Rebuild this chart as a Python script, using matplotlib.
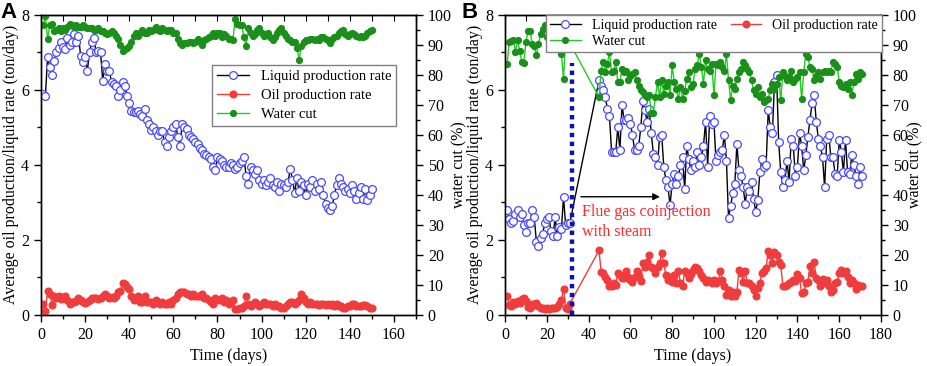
import numpy as np
import matplotlib.pyplot as plt
from matplotlib.ticker import MultipleLocator

plt.rcParams['font.family'] = ['Liberation Serif', 'DejaVu Serif']

# ---------------- panel A : conventional steam stimulation ----------------
days_a = np.arange(1, 151)
liquid_a = [5.88, 5.83, 6.86, 6.6, 6.4, 6.77, 7.0, 7.1, 7.26, 7.15,
            7.08, 7.39, 7.2, 7.26, 7.48, 7.26, 7.43, 6.9, 6.73, 6.86,
            6.5, 7.0, 7.26, 7.37, 7.0, 7.04, 7.0, 6.24, 6.68, 6.5,
            6.5, 6.2, 6.15, 6.09, 5.84, 6.0, 6.2, 6.1, 5.84, 5.66,
            5.43, 5.4, 5.4, 5.43, 5.35, 5.3, 5.5, 5.2, 5.1, 4.94,
            5.0, 4.9, 4.8, 4.9, 4.9, 4.6, 4.5, 4.75, 4.9, 5.0,
            5.1, 4.75, 4.5, 5.1, 5.0, 4.95, 4.8, 4.75, 4.7, 4.6,
            4.55, 4.45, 4.4, 4.3, 4.25, 4.2, 4.15, 3.95, 3.85, 4.2,
            4.15, 4.1, 4.0, 3.95, 3.95, 4.05, 4.0, 3.9, 3.95, 4.05,
            4.1, 4.2, 3.7, 3.5, 3.95, 3.85, 3.75, 3.85, 3.6, 3.5,
            3.6, 3.45, 3.55, 3.65, 3.45, 3.4, 3.55, 3.3, 3.5, 3.45,
            3.4, 3.55, 3.9, 3.6, 3.25, 3.65, 3.3, 3.55, 3.45, 3.2,
            3.5, 3.4, 3.6, 3.3, 3.5, 3.35, 3.55, 3.2, 2.95, 2.85,
            2.8, 2.9, 3.2, 3.45, 3.65, 3.5, 3.4, 3.3, 3.35, 3.25,
            3.45, 3.3, 3.1, 3.25, 3.4, 3.1, 3.35, 3.05, 3.2, 3.35]
oil_a = [0.3, 0.1, 0.65, 0.55, 0.28, 0.5, 0.45, 0.5, 0.42, 0.48,
         0.5, 0.4, 0.3, 0.35, 0.35, 0.38, 0.45, 0.4, 0.35, 0.33,
         0.35, 0.4, 0.45, 0.45, 0.45, 0.42, 0.45, 0.5, 0.55, 0.5,
         0.45, 0.48, 0.45, 0.5, 0.6, 0.65, 0.85, 0.82, 0.75, 0.7,
         0.5, 0.4, 0.45, 0.5, 0.35, 0.35, 0.5, 0.35, 0.35, 0.35,
         0.3, 0.4, 0.35, 0.3, 0.35, 0.3, 0.3, 0.35, 0.3, 0.4,
         0.45, 0.55, 0.6, 0.6, 0.6, 0.55, 0.55, 0.5, 0.55, 0.5,
         0.5, 0.5, 0.55, 0.45, 0.45, 0.4, 0.35, 0.3, 0.45, 0.4,
         0.4, 0.45, 0.35, 0.4, 0.3, 0.35, 0.4, 0.15, 0.15, 0.2,
         0.2, 0.25, 0.5, 0.3, 0.25, 0.3, 0.35, 0.3, 0.25, 0.3,
         0.35, 0.3, 0.3, 0.3, 0.25, 0.3, 0.25, 0.25, 0.2, 0.2,
         0.25, 0.3, 0.35, 0.35, 0.3, 0.35, 0.4, 0.55, 0.45, 0.35,
         0.3, 0.35, 0.3, 0.3, 0.3, 0.28, 0.3, 0.3, 0.28, 0.3,
         0.28, 0.3, 0.25, 0.3, 0.25, 0.25, 0.2, 0.2, 0.25, 0.25,
         0.3, 0.3, 0.25, 0.25, 0.25, 0.28, 0.28, 0.25, 0.2, 0.2]
water_a = [96.5, 99.5, 92, 96.5, 96.8, 94.5, 95, 95.5, 94.5, 95.5,
           95, 96, 97, 96.5, 96, 96.5, 96, 96, 96.5, 96,
           95.5, 95.5, 95.5, 95, 95, 95.5, 94.5, 94.5, 94, 93.5,
           94, 94.5, 94, 93, 92, 90, 88, 88.5, 89, 89.5,
           91, 93, 94, 93, 94, 95, 94, 94, 95, 94.5,
           95, 96, 95, 94.5, 95.5, 95, 94.5, 95, 95, 94,
           94, 92, 90.5, 90, 90.5, 90.5, 91, 91, 90.5, 91,
           92, 91, 90, 91.5, 92, 92.5, 93, 94, 93, 94,
           94, 92.5, 93.5, 93, 92, 92, 91.5, 98.5, 97, 96.5,
           96.5, 92.5, 89.5, 95.5, 94, 93, 93.5, 95, 95.5, 94,
           93, 93.5, 94, 92.5, 91.5, 92.5, 94, 95, 95.5, 94,
           93, 92, 91.5, 91, 91, 89, 85, 89.5, 91, 91.5,
           91.5, 92, 92, 91.5, 92, 91.5, 92.5, 92.5, 92, 91.5,
           90.5, 92, 92.5, 93, 94, 94.5, 95, 93.5, 93, 93.5,
           94, 93.5, 93, 92.5, 93, 92.5, 93, 94, 94.5, 95]

# ---------------- panel B : flue gas co-injection ----------------
days_b = list(range(1, 32)) + list(range(45, 172))
liquid_b = [2.8, 2.55, 2.45, 2.5, 2.7, 2.8, 2.6, 2.7, 2.4, 2.2,
            2.45, 2.45, 2.8, 2.6, 1.95, 1.85, 2.05, 2.15, 2.45, 2.55,
            2.6, 2.25, 2.1, 2.6, 2.1, 2.35, 2.3, 3.15, 2.4, 2.45, 2.45,
            6.25, 6.1, 6.0, 5.8, 5.5, 5.3, 4.35, 4.35, 4.35, 5.0,
            4.4, 5.6, 5.2, 5.2, 5.25, 5.1, 4.8, 4.4, 4.4, 4.5,
            5.0, 5.7, 5.45, 5.15, 5.5, 4.85, 4.3, 4.2, 4.0, 4.75,
            4.8, 3.95, 3.6, 3.4, 2.93, 3.5, 3.75, 3.5, 3.7, 4.0,
            4.2, 3.35, 4.5, 4.15, 3.85, 4.1, 3.95, 4.35, 4.0, 4.2,
            4.5, 5.15, 3.95, 5.3, 5.1, 5.15, 4.1, 4.25, 4.35, 4.4,
            4.8, 4.1, 2.58, 2.9, 3.25, 3.5, 4.55, 3.85, 3.7, 3.4,
            2.97, 3.4, 3.3, 3.55, 3.1, 2.75, 3.05, 3.8, 4.15, 3.95,
            4.0, 5.45, 5.0, 4.85, 6.2, 6.4, 4.6, 3.8, 3.4, 3.6,
            4.1, 3.55, 4.7, 4.5, 3.7, 3.95, 4.85, 4.5, 3.85, 4.25,
            4.75, 5.2, 5.65, 5.85, 5.15, 4.7, 4.5, 4.2, 3.4, 4.7,
            4.8, 4.2, 4.2, 3.75, 3.7, 4.65, 4.35, 3.8, 4.65, 3.8,
            3.75, 4.25, 4.0, 3.7, 3.5, 3.95, 3.7]
oil_b = [0.5, 0.28, 0.25, 0.35, 0.3, 0.38, 0.32, 0.42, 0.45, 0.38,
         0.22, 0.18, 0.3, 0.28, 0.32, 0.25, 0.2, 0.18, 0.15, 0.2,
         0.15, 0.18, 0.2, 0.18, 0.22, 0.3, 0.4, 0.7, 0.2, 0.15, 0.3,
         1.72, 1.15, 1.12, 1.0, 0.94, 0.76, 0.76, 0.85, 0.8, 1.12,
         1.07, 0.98, 0.98, 1.16, 1.02, 0.94, 0.87, 1.02, 1.16, 1.05,
         0.9, 1.38, 1.29, 1.42, 1.6, 1.29, 1.25, 1.12, 1.29, 1.38,
         1.64, 1.38, 1.07, 0.94, 1.02, 0.89, 1.07, 0.85, 1.16, 0.85,
         0.76, 1.16, 1.12, 0.98, 1.1, 1.2, 1.29, 1.25, 1.16, 1.07,
         0.98, 0.89, 0.94, 0.9, 0.85, 0.94, 0.85, 0.9, 1.16, 0.94,
         0.76, 0.53, 0.67, 0.5, 0.62, 0.5, 0.62, 1.2, 1.12, 0.89,
         1.16, 0.85, 0.85, 0.76, 0.67, 0.5, 0.71, 0.85, 1.12, 1.16,
         1.25, 1.7, 1.6, 1.38, 1.67, 1.6, 1.42, 1.33, 0.78, 0.78,
         0.8, 0.85, 0.87, 0.94, 0.9, 1.1, 0.98, 0.58, 0.62, 0.85,
         0.89, 1.31, 1.12, 1.42, 0.98, 0.94, 0.76, 0.96, 0.85, 0.94,
         0.78, 0.62, 0.67, 0.85, 0.89, 1.12, 1.2, 1.12, 1.16, 1.02,
         0.85, 0.94, 0.85, 0.69, 0.8, 0.76, 0.76]
water_b = [83.5, 90.8, 91.2, 91.6, 87.5, 91.6, 88, 84.2, 84, 90.8,
           94.7, 94.7, 90.3, 89.7, 86.4, 90.3, 93.6, 95.3, 96.4, 92.5,
           93.1, 95, 92, 94, 93, 91, 87, 78.6, 92, 95, 90.5,
           72.5,
           81.4, 84.2, 80.9, 83.6, 87.5, 80.9, 81.4, 84.2, 77.6, 77.6,
           81.9, 80.9, 81.4, 78.1, 79.7, 80.2, 80.9, 78.1,
           76.4, 74.8, 74.2, 73.1, 72.6, 73.4, 67.2, 67.2,
           72.6, 77.6, 72.6, 78.1, 73.7, 76.4, 77.6, 73.1, 83.1,
           77.6, 75.3, 72.0, 75.9, 72, 74.7, 78.6, 80.9,
           75.9, 77, 81.9, 83.1, 87, 82.5, 77, 84.8, 81.9, 81.4,
           83.6, 73.1, 83.6, 83.1, 84.2, 82.5, 81.4, 87, 78.1, 71.5,
           76.4, 75.3, 78.6, 80.9, 81.9, 84.2, 83.1, 81.9, 80.9, 78.1,
           74.8, 73.7, 75.9, 72.6, 73.7, 71, 71.5, 72, 74.8, 77,
           75.3, 77, 79.2, 71.5, 80.9, 79.7, 78.1, 79.2,
           81.4, 77.6, 78.6, 79.2, 80.9, 72, 80.9, 87, 85.9,
           82.5, 81.9, 78.1, 79.7, 80.9, 78.6, 80.9, 81.4, 80.9,
           81.4, 80.9, 84.2, 83.6, 82.5, 77.6, 76.4, 75.9, 77,
           75.3, 77.6, 73.1, 77.6, 80.2, 78.6, 80.9, 80.2]

inject_day = 32
inject_top = 6.7
arrow_from = (35, 3.15)
arrow_to = (75.5, 3.15)
note_pos = (37, 2.95)

blue = '#4a4aff'
red = '#f03c3c'
green_line = '#22cc22'
green_dot = '#1a8f1a'


def draw_panel(ax, days, liq, oil, wc, xmax, rlabel_x):
    ax.plot(days, liq, color='black', lw=1.0, marker='o', ms=5.6,
            mfc='white', mec=blue, mew=0.9, label='Liquid production rate', zorder=3)
    ax.plot(days, oil, color=red, lw=1.0, marker='o', ms=4.8,
            mfc=red, mec=red, label='Oil production rate', zorder=3)
    ax2 = ax.twinx()
    ax2.plot(days, wc, color=green_line, lw=1.0, marker='o', ms=4.2,
             mfc=green_dot, mec=green_dot, label='Water cut')

    ax.set_xlim(0, xmax)
    ax.set_ylim(0, 8)
    ax2.set_ylim(0, 100)
    ax.xaxis.set_major_locator(MultipleLocator(20))
    ax.xaxis.set_minor_locator(MultipleLocator(10))
    ax.yaxis.set_major_locator(MultipleLocator(2))
    ax.yaxis.set_minor_locator(MultipleLocator(1))
    ax2.yaxis.set_major_locator(MultipleLocator(10))
    ax2.yaxis.set_minor_locator(MultipleLocator(5))
    for a in (ax, ax2):
        a.tick_params(which='both', direction='out', labelsize=11.5, width=1)
        a.tick_params(which='major', length=5)
        a.tick_params(which='minor', length=3)
        for s in a.spines.values():
            s.set_linewidth(1.0)
    top = ax.secondary_xaxis('top')
    top.set_xticks(np.arange(0, xmax + 1, 10))
    top.tick_params(direction='in', length=4, labeltop=False)

    ax.set_xlabel('Time (days)', fontsize=11.5)
    ax.set_ylabel('Average oil production/liquid rate (ton/day)', fontsize=11.5)
    ax2.set_ylabel('water cut (%)', fontsize=11.5)
    ax.xaxis.set_label_coords(0.5, -0.11)
    ax.yaxis.set_label_coords(-0.058, 0.5)
    ax2.yaxis.set_label_coords(rlabel_x, 0.5)
    return ax2


fig = plt.figure(figsize=(9.27, 3.66), dpi=100)
axA = fig.add_axes([0.0442, 0.1393, 0.4046, 0.8207])
axB = fig.add_axes([0.5448, 0.1393, 0.4056, 0.8207])

axA2 = draw_panel(axA, days_a, liquid_a, oil_a, water_a, 170, 1.095)
axB2 = draw_panel(axB, days_b, liquid_b, oil_b, water_b, 180, 1.07)

# legends
hA = axA.get_lines()[:2] + axA2.get_lines()
legA = axA2.legend(hA, [h.get_label() for h in hA], loc='upper left',
                   bbox_to_anchor=(0.456, 0.833), borderaxespad=0,
                   fontsize=10.5, fancybox=False, edgecolor='#808080',
                   framealpha=1, labelspacing=0.4, handlelength=2.2,
                   borderpad=0.35)
legA.get_frame().set_linewidth(1.0)

hB = [axB.get_lines()[0], axB2.get_lines()[0], axB.get_lines()[1]]
legB = axB2.legend(hB, [h.get_label() for h in hB], loc='upper left', ncol=2,
                   bbox_to_anchor=(0.109, 1.0), borderaxespad=0,
                   fontsize=10, fancybox=False, edgecolor='#808080',
                   framealpha=1, labelspacing=0.2, handlelength=2.2,
                   borderpad=0.3, columnspacing=1.0)
legB.get_frame().set_linewidth(1.0)

# injection marker in panel B
axB.plot([inject_day, inject_day], [0, inject_top], color='#0a14b4', lw=3.2,
         linestyle=(0, (1, 1)), zorder=4)
axB.annotate('', xy=arrow_to, xytext=arrow_from,
             arrowprops=dict(arrowstyle='-|>', color='black', lw=1.0,
                             mutation_scale=10))
axB.text(note_pos[0], note_pos[1], 'Flue gas coinjection\nwith steam',
         color='#ff2a2a', fontsize=11.5, va='top', linespacing=1.3)

fig.text(0.001, 0.995, 'A', fontsize=16, fontweight='bold',
         family='Liberation Sans', va='top')
fig.text(0.498, 0.995, 'B', fontsize=16, fontweight='bold',
         family='Liberation Sans', va='top')

fig.savefig('out.png', dpi=100)
